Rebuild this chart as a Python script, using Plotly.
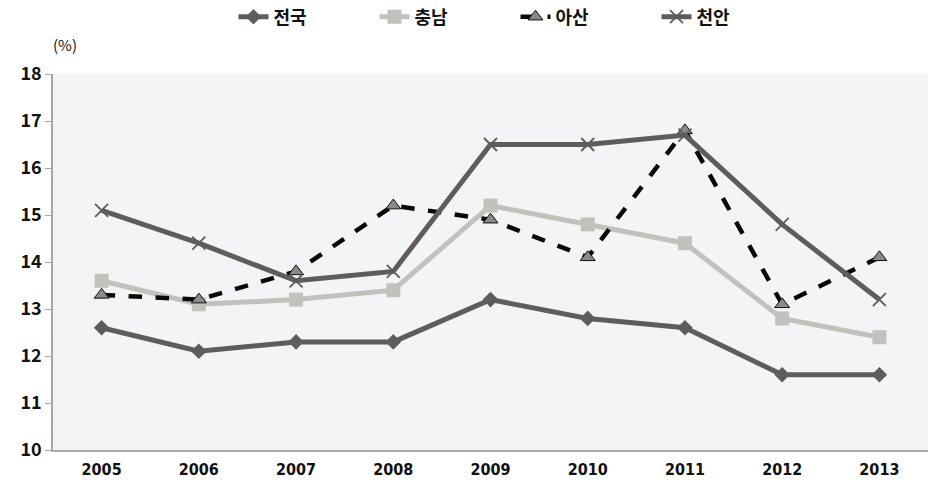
import plotly.graph_objects as go

years = ["2005", "2006", "2007", "2008", "2009", "2010", "2011", "2012", "2013"]
nation = [12.6, 12.1, 12.3, 12.3, 13.2, 12.8, 12.6, 11.6, 11.6]
chungnam = [13.6, 13.1, 13.2, 13.4, 15.2, 14.8, 14.4, 12.8, 12.4]
asan = [13.3, 13.2, 13.8, 15.2, 14.9, 14.1, 16.8, 13.1, 14.1]
cheonan = [15.1, 14.4, 13.6, 13.8, 16.5, 16.5, 16.7, 14.8, 13.2]
names = ["전국", "충남", "아산", "천안"]
yticks = [10, 11, 12, 13, 14, 15, 16, 17, 18]

font_kr = "Noto Sans CJK KR"
fig = go.Figure()
fig.add_trace(go.Scatter(x=years, y=nation, name=names[0], mode="lines+markers",
                         line=dict(color="#5e5d59", width=5),
                         marker=dict(symbol="diamond", size=12, color="#5e5d59")))
fig.add_trace(go.Scatter(x=years, y=chungnam, name=names[1], mode="lines+markers",
                         line=dict(color="#c3c1bb", width=5),
                         marker=dict(symbol="square", size=14, color="#c3c1bb")))
fig.add_trace(go.Scatter(x=years, y=asan, name=names[2], mode="lines+markers",
                         line=dict(color="#0a0808", width=4.5, dash="dash"),
                         marker=dict(symbol="triangle-up", size=13, color="#8c8a86",
                                     line=dict(color="#111", width=1))))
fig.add_trace(go.Scatter(x=years, y=cheonan, name=names[3], mode="lines+markers",
                         line=dict(color="#5e5d59", width=5),
                         marker=dict(symbol="x-thin", size=13, color="#5e5d59",
                                     line=dict(color="#5e5d59", width=1.8))))

fig.update_layout(
    width=942, height=496,
    margin=dict(l=53, r=14, t=74, b=46, autoexpand=False),
    paper_bgcolor="white",
    plot_bgcolor="#f2f4f6",
    font=dict(family=font_kr, color="#111", size=16),
    legend=dict(orientation="h", x=0.5 + 25 / 875, xanchor="center", y=1 + (74 - 17) / 376, yanchor="middle",
                font=dict(family=font_kr, size=18, color="#111", weight="bold"),
                bgcolor="rgba(0,0,0,0)", traceorder="normal",
                entrywidth=96),
    xaxis=dict(type="category", range=[-0.5, 8.5], showgrid=False, zeroline=False,
               showline=True, linecolor="#aaa69f", linewidth=1.5,
               ticks="", ticklabelstandoff=4,
               tickfont=dict(family="DejaVu Sans Condensed, Liberation Sans, Noto Sans", size=16, weight="bold", color="#111")),
    yaxis=dict(range=[10, 18], tickvals=yticks, showgrid=False, zeroline=False,
               showline=True, linecolor="#aaa69f", linewidth=1.5,
               ticks="outside", ticklen=6, tickcolor="#aaa69f",
               tickfont=dict(family=font_kr, size=18, weight="bold", color="#111")),
    annotations=[dict(text="(%)", x=(65 - 53) / 875, y=(450 - 45) / 376, xref="paper", yref="paper",
                      showarrow=False, xanchor="center", yanchor="middle",
                      font=dict(family=font_kr, size=15, color="#111"))],
)

fig.write_html("out.html")
